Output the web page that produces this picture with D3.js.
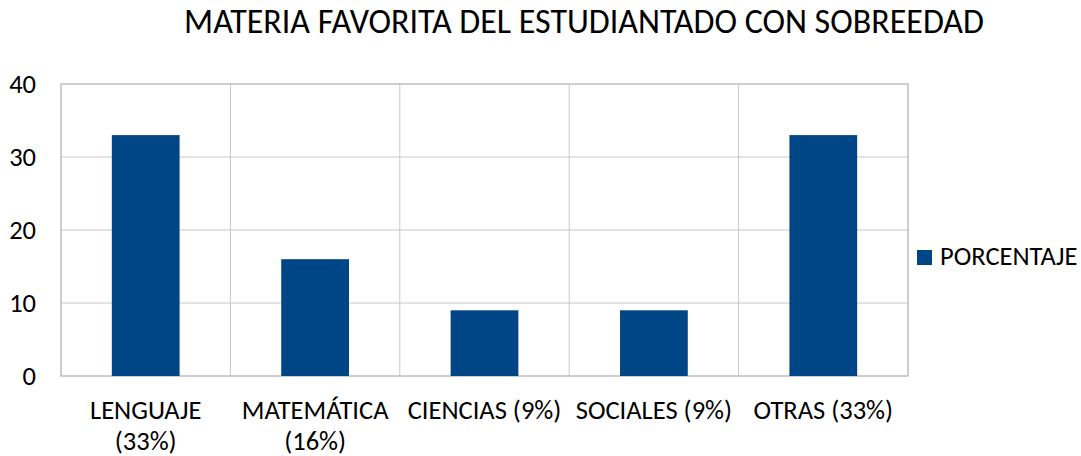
<!DOCTYPE html>
<html>
<head>
<meta charset="utf-8">
<script src="https://cdn.jsdelivr.net/npm/d3@7"></script>
<style>
  body { margin: 0; background: #fff; }
  svg text { font-family: Carlito, Lato, "Open Sans", sans-serif; fill: #000; }
</style>
</head>
<body>
<div id="chart"></div>
<script>
const categories = [["LENGUAJE", "(33%)"], ["MATEMÁTICA", "(16%)"], ["CIENCIAS (9%)"], ["SOCIALES (9%)"], ["OTRAS (33%)"]];
const values = [33, 16, 9, 9, 33];
const yTicks = [0, 10, 20, 30, 40];
const seriesName = "PORCENTAJE";
const title = "MATERIA FAVORITA DEL ESTUDIANTADO CON SOBREEDAD";

const W = 1081, H = 456;
const margin = {top: 84, right: 173, bottom: 80, left: 61};
const width = W - margin.left - margin.right;
const height = H - margin.top - margin.bottom;

const svg = d3.select("#chart").append("svg")
    .attr("width", W)
    .attr("height", H);

svg.append("text")
    .attr("x", 584)
    .attr("y", 32.5)
    .attr("text-anchor", "middle")
    .attr("font-size", "34px")
    .text(title);

const g = svg.append("g")
    .attr("transform", `translate(${margin.left},${margin.top})`);

const x = d3.scaleBand().domain(d3.range(values.length)).range([0, width]);
const y = d3.scaleLinear().domain([0, 40]).range([height, 0]);

// horizontal gridlines
g.selectAll(".hgrid")
    .data(yTicks.slice(1, -1))
    .join("line")
    .attr("x1", 0).attr("x2", width)
    .attr("y1", d => y(d)).attr("y2", d => y(d))
    .attr("stroke", "#c8c8c8").attr("stroke-width", 1);

// vertical gridlines between categories
g.selectAll(".vgrid")
    .data(d3.range(1, values.length))
    .join("line")
    .attr("x1", d => x(d)).attr("x2", d => x(d))
    .attr("y1", 0).attr("y2", height)
    .attr("stroke", "#c8c8c8").attr("stroke-width", 1);

// plot border
g.append("rect")
    .attr("width", width).attr("height", height)
    .attr("fill", "none")
    .attr("stroke", "#b4b4b4").attr("stroke-width", 1.3);

// bars
const barW = x.bandwidth() * 0.4;
g.selectAll(".bar")
    .data(values)
    .join("rect")
    .attr("x", (d, i) => x(i) + (x.bandwidth() - barW) / 2)
    .attr("y", d => y(d))
    .attr("width", barW)
    .attr("height", d => height - y(d))
    .attr("fill", "#004586");

// y axis labels
g.selectAll(".ylab")
    .data(yTicks)
    .join("text")
    .attr("x", -25)
    .attr("y", d => y(d))
    .attr("dy", "0.35em")
    .attr("text-anchor", "end")
    .attr("font-size", "26.5px")
    .text(d => d);

// x axis labels
const xl = g.selectAll(".xlab")
    .data(categories)
    .join("text")
    .attr("text-anchor", "middle")
    .attr("font-size", "26.5px")
    .attr("transform", (d, i) => `translate(${x(i) + x.bandwidth() / 2},${height + 43})`);
xl.selectAll("tspan")
    .data(d => d)
    .join("tspan")
    .attr("x", 0)
    .attr("dy", (d, i) => i === 0 ? 0 : 31)
    .text(d => d);

// legend
const lg = svg.append("g").attr("transform", "translate(917,250)");
lg.append("rect").attr("width", 15).attr("height", 15).attr("fill", "#004586");
lg.append("text")
    .attr("x", 23).attr("y", 15)
    .attr("font-size", "26.5px")
    .text(seriesName);
</script>
</body>
</html>
